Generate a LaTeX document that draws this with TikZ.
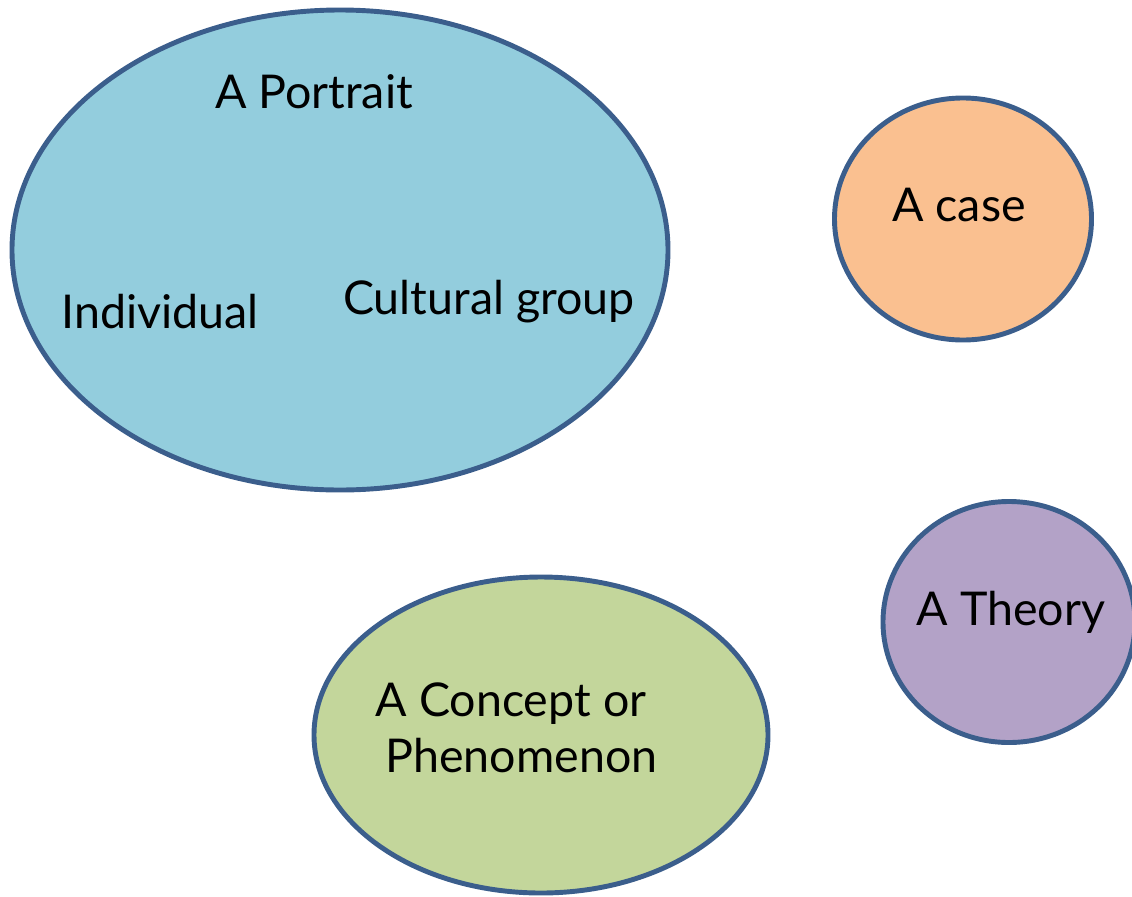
\documentclass[tikz,border=0pt]{standalone}
\usepackage{fontspec}
\setmainfont{Lato}
\usetikzlibrary{shapes.geometric}
\definecolor{edgeblue}{HTML}{3B5E8C}
\definecolor{portraitfill}{HTML}{93CDDD}
\definecolor{casefill}{HTML}{FAC090}
\definecolor{theoryfill}{HTML}{B3A2C7}
\definecolor{conceptfill}{HTML}{C3D69B}
\tikzset{
  blob/.style={ellipse, draw=edgeblue, line width=2.8pt, inner sep=0pt},
  lbl/.style={font=\fontsize{26.5}{32}\selectfont, text=black, inner sep=0pt, align=center}
}
\begin{document}
\begin{tikzpicture}[x=0.02cm,y=-0.02cm]
\useasboundingbox (0,0) rectangle (1132,896);
\begin{scope}
\clip (0,0) rectangle (1132,896);
\node[blob, fill=portraitfill, minimum width=656*0.02cm, minimum height=480*0.02cm] (portrait) at (340,250) {};
\node[blob, fill=casefill, minimum width=257*0.02cm, minimum height=242*0.02cm] (case) at (963,219) {};
\node[blob, fill=theoryfill, minimum width=252*0.02cm, minimum height=241*0.02cm] (theory) at (1009,622) {};
\node[blob, fill=conceptfill, minimum width=454*0.02cm, minimum height=316*0.02cm] (concept) at (541,735) {};
\end{scope}
\node[lbl] (tportrait) at (314,92) {A Portrait};
\node[lbl] (tindividual) at (160,312) {Individual};
\node[lbl] (tcultural) at (489,302) {Cultural group};
\node[lbl] (tcase) at (959,205) {A case};
\node[lbl] (ttheory) at (1011,612) {A Theory};
\node[lbl] (tconcept) at (511,728) {A Concept or\\ \hspace*{12pt}Phenomenon};
\end{tikzpicture}
\end{document}
